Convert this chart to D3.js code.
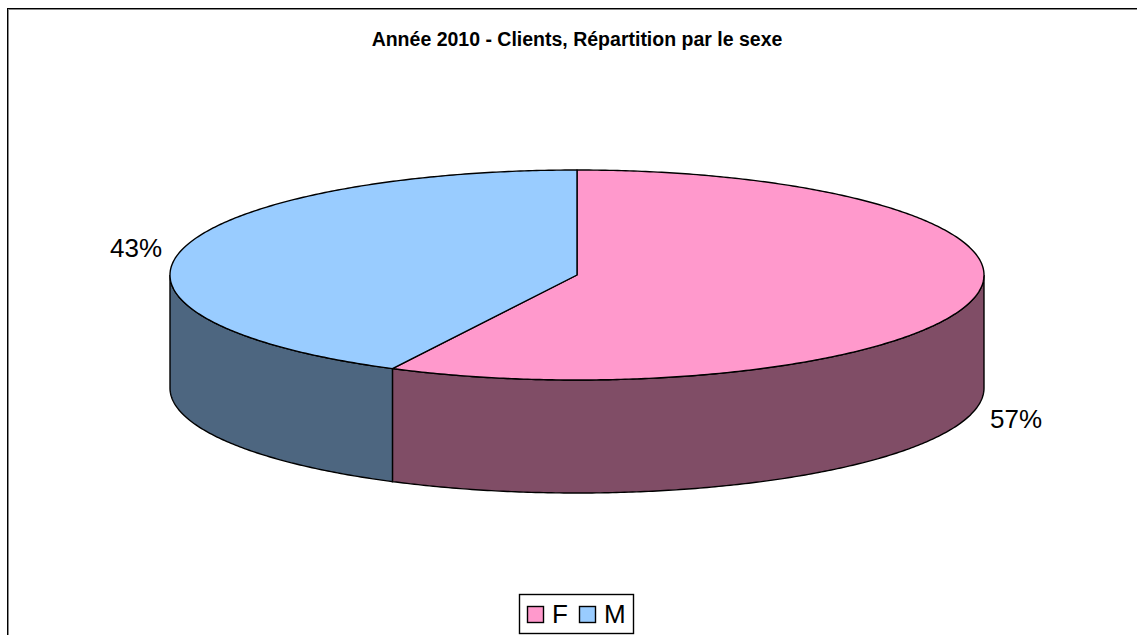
<!DOCTYPE html>
<html>
<head>
<meta charset="utf-8">
<script src="https://cdn.jsdelivr.net/npm/d3@7"></script>
<style>
html,body{margin:0;padding:0;background:#fff}
svg{display:block}
text{font-family:"Liberation Sans",Arial,sans-serif;fill:#000}
</style>
</head>
<body>
<svg id="chart" width="1137" height="635"></svg>
<script>
// Share of clients by sex, year 2010
const categories = ["F", "M"];
const shares = [0.5749, 0.4251];
const topColors = ["#ff99cc", "#99ccff"];
const sideColors = ["#804d66", "#4d6680"];
const chartTitle = "Année 2010 - Clients, Répartition par le sexe";

const svg = d3.select("#chart");
const W = 1137, H = 635;

// Outer frame with its soft inner edge; bottom and right run past the page
svg.append("rect").attr("x", 8.5).attr("y", 9.5).attr("width", W + 20).attr("height", H + 20)
  .attr("fill", "#fff").attr("stroke", "#888").attr("stroke-width", 1);
svg.append("rect").attr("x", 7.5).attr("y", 8.5).attr("width", W + 20).attr("height", H + 20)
  .attr("fill", "none").attr("stroke", "#000").attr("stroke-width", 1);

svg.append("text").attr("x", 577).attr("y", 46).attr("text-anchor", "middle")
  .attr("font-size", 19.5).attr("font-weight", "bold").text(chartTitle);

// Elliptical disc: a unit pie layout projected through two radial scales
const cx = 577, cy = 275, rx = 407, ry = 105, depth = 113;
const px = d3.scaleLinear().domain([-1, 1]).range([cx - rx, cx + rx]);
const py = d3.scaleLinear().domain([-1, 1]).range([cy - ry, cy + ry]);
const arcs = d3.pie().sort(null).value(d => d)(shares);
const pt = (a, dz = 0) => [px(Math.sin(a)), py(-Math.cos(a)) + dz];

function outline(a0, a1, dz = 0) {
  const n = Math.max(2, Math.ceil((a1 - a0) / 0.01));
  return d3.range(n + 1).map(i => pt(a0 + (a1 - a0) * i / n, dz));
}
const line = d3.line();

// Side walls: only the part of the rim that faces the viewer
arcs.forEach((d, i) => {
  const a0 = Math.max(d.startAngle, Math.PI / 2);
  const a1 = Math.min(d.endAngle, Math.PI * 1.5);
  if (a1 <= a0) return;
  const upper = outline(a0, a1);
  const lower = outline(a0, a1, depth).reverse();
  svg.append("path").attr("d", line(upper.concat(lower)) + "Z")
    .attr("fill", sideColors[i]).attr("stroke", "#000").attr("stroke-width", 1.4);
});

// Top faces
arcs.forEach((d, i) => {
  const rim = outline(d.startAngle, d.endAngle);
  svg.append("path").attr("d", line([[cx, cy], ...rim]) + "Z")
    .attr("fill", topColors[i]).attr("stroke", "#000").attr("stroke-width", 1.4)
    .attr("stroke-linejoin", "round");
});

// Percentage labels
const pct = d3.format(".0%");
const labelPos = [[1016, 428], [136, 257]];
arcs.forEach((d, i) => {
  svg.append("text").attr("x", labelPos[i][0]).attr("y", labelPos[i][1])
    .attr("text-anchor", "middle").attr("font-size", 26).text(pct(shares[i]));
});

// Legend
const legend = svg.append("g");
legend.append("rect").attr("x", 519.5).attr("y", 594.5).attr("width", 114).attr("height", 39)
  .attr("fill", "#fff").attr("stroke", "#000").attr("stroke-width", 1.4);
const keyX = d3.scalePoint().domain(categories).range([527, 579]);
categories.forEach((c, i) => {
  legend.append("rect").attr("x", keyX(c) + 0.5).attr("y", 606.5).attr("width", 16).attr("height", 16)
    .attr("fill", topColors[i]).attr("stroke", "#000").attr("stroke-width", 1.4);
  legend.append("text").attr("x", keyX(c) + 25).attr("y", 623).attr("font-size", 26).text(c);
});
</script>
</body>
</html>
